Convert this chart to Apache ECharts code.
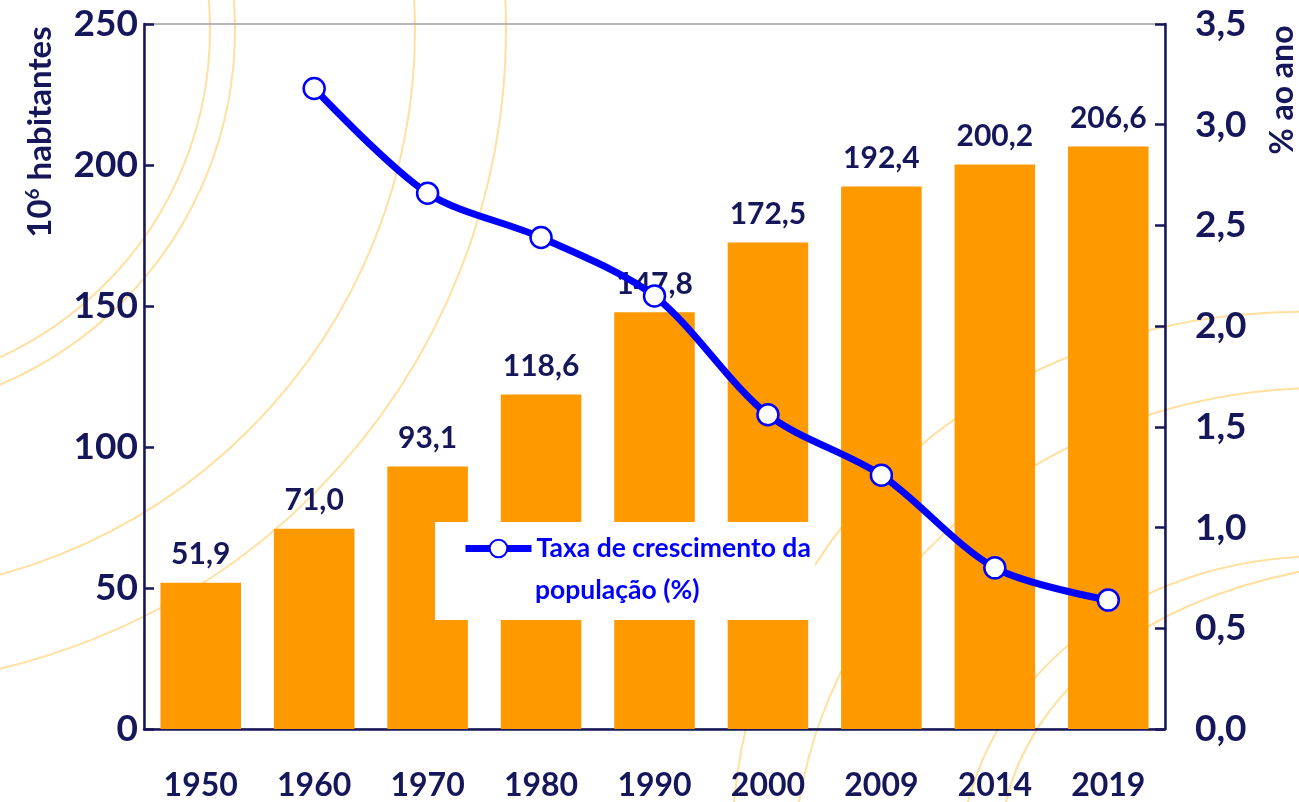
<!DOCTYPE html>
<html>
<head>
<meta charset="utf-8">
<script src="https://cdn.jsdelivr.net/npm/echarts@6/dist/echarts.min.js"></script>
<style>
  html, body { margin: 0; padding: 0; background: #fff; }
  #chart { width: 1299px; height: 802px; }
</style>
</head>
<body>
<div id="chart"></div>
<script>
const years = ["1950", "1960", "1970", "1980", "1990", "2000", "2009", "2014", "2019"];
const population = [51.9, 71.0, 93.1, 118.6, 147.8, 172.5, 192.4, 200.2, 206.6];
const growthRate = [null, 3.18, 2.66, 2.44, 2.15, 1.56, 1.26, 0.80, 0.64];
const leftTicks = { min: 0, max: 250, interval: 50 };
const rightTicks = { min: 0, max: 3.5, interval: 0.5 };

const navy = "#16165a";
const orange = "#ff9900";
const blue = "#0000ff";
const arcColor = "#ffe0a0";
const font = "Lato";

const comma = (v, d) => v.toFixed(d).replace(".", ",");

const chart = echarts.init(document.getElementById("chart"));

// faint decorative arcs in the background
const leftArcs = [360, 385, 565, 656].map(r => ({
  type: "arc",
  z: -10,
  silent: true,
  shape: { cx: -150, cy: 30, r: r, startAngle: -Math.PI / 2, endAngle: Math.PI / 2 },
  style: { stroke: arcColor, lineWidth: 2, fill: null }
}));
const rightCurves = [
  [1320, 312, 1000, 305, 760, 520, 734, 802],
  [1320, 388, 1060, 390, 840, 560, 799, 802],
  [1320, 556, 1120, 560, 1000, 680, 968, 802],
  [1320, 568, 1130, 600, 1030, 700, 1006, 802]
].map(c => ({
  type: "bezierCurve",
  z: -10,
  silent: true,
  shape: { x1: c[0], y1: c[1], cpx1: c[2], cpy1: c[3], cpx2: c[4], cpy2: c[5], x2: c[6], y2: c[7] },
  style: { stroke: arcColor, lineWidth: 2, fill: null }
}));

chart.setOption({
  backgroundColor: "#fff",
  animation: false,
  textStyle: { fontFamily: font },
  grid: {
    left: 144,
    right: 134,
    top: 24,
    bottom: 72,
    show: true,
    borderColor: "#a0a0a0",
    borderWidth: 1.5,
    backgroundColor: "transparent"
  },
  legend: {
    data: [{ name: "Taxa de crescimento da" }],
    left: 462,
    top: 535,
    padding: 0,
    itemWidth: 66,
    itemHeight: 22,
    z: 20,
    lineStyle: { width: 7 },
    textStyle: { color: blue, fontSize: 26.5, fontWeight: "bold", fontFamily: font }
  },
  graphic: [
    ...leftArcs,
    ...rightCurves,
    {
      type: "rect",
      z: 10,
      silent: true,
      shape: { x: 435, y: 522, width: 380, height: 98 },
      style: { fill: "#fff" }
    },
    {
      type: "text",
      z: 20,
      silent: true,
      x: 535,
      y: 590,
      style: {
        text: "população (%)",
        fill: blue,
        font: "bold 26.5px " + font,
        align: "left",
        verticalAlign: "middle"
      }
    },
    {
      type: "text",
      silent: true,
      x: 40,
      y: 132,
      rotation: Math.PI / 2,
      style: {
        text: "{b|10}{s|6}{b| habitantes}",
        align: "center",
        verticalAlign: "middle",
        rich: {
          b: { fill: navy, fontSize: 33, fontWeight: "bold", fontFamily: font },
          s: { fill: navy, fontSize: 19, fontWeight: "bold", fontFamily: font, padding: [0, 0, 15, 0] }
        }
      }
    },
    {
      type: "text",
      silent: true,
      x: 1283,
      y: 90,
      rotation: Math.PI / 2,
      style: {
        text: "% ao ano",
        fill: navy,
        font: "bold 32px " + font,
        align: "center",
        verticalAlign: "middle"
      }
    }
  ],
  xAxis: {
    type: "category",
    data: years,
    axisLine: { lineStyle: { color: navy, width: 2.5 } },
    axisTick: { show: false },
    axisLabel: {
      color: navy,
      fontSize: 32,
      fontWeight: "bold",
      margin: 41
    }
  },
  yAxis: [
    {
      type: "value",
      min: leftTicks.min,
      max: leftTicks.max,
      interval: leftTicks.interval,
      axisLine: { show: true, lineStyle: { color: navy, width: 2.5 } },
      axisTick: { show: true, inside: true, length: 10, lineStyle: { color: navy, width: 2.5 } },
      splitLine: { show: false },
      axisLabel: { color: navy, fontSize: 37, fontWeight: "bold", margin: 6 }
    },
    {
      type: "value",
      min: rightTicks.min,
      max: rightTicks.max,
      interval: rightTicks.interval,
      position: "right",
      axisLine: { show: true, lineStyle: { color: navy, width: 2.5 } },
      axisTick: { show: true, inside: true, length: 10, lineStyle: { color: navy, width: 2.5 } },
      splitLine: { show: false },
      axisLabel: {
        color: navy,
        fontSize: 37,
        fontWeight: "bold",
        margin: 30,
        formatter: v => comma(v, 1)
      }
    }
  ],
  series: [
    {
      name: "População",
      type: "bar",
      data: population,
      barCategoryGap: "29%",
      itemStyle: { color: orange },
      label: {
        show: true,
        position: "top",
        distance: 13,
        color: navy,
        fontSize: 30,
        fontWeight: "bold",
        fontFamily: font,
        formatter: p => comma(p.value, 1)
      },
      z: 2
    },
    {
      name: "Taxa de crescimento da",
      type: "line",
      yAxisIndex: 1,
      data: growthRate,
      smooth: 0.3,
      connectNulls: false,
      symbol: "circle",
      symbolSize: 21,
      lineStyle: { color: blue, width: 7 },
      itemStyle: { color: "#fff", borderColor: blue, borderWidth: 2.5 },
      z: 5
    }
  ]
});
</script>
</body>
</html>
